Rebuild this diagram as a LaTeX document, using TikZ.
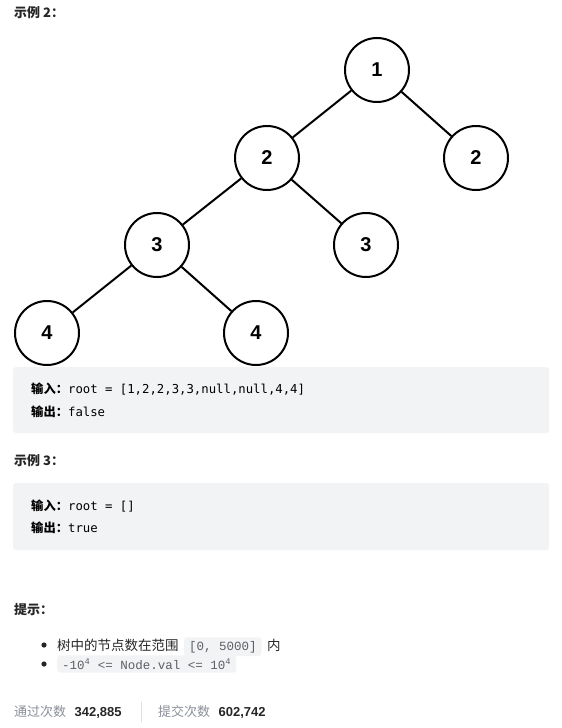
\documentclass[tikz,border=0pt]{standalone}
\usepackage{fontspec}
\setmainfont{Liberation Sans}
\setmonofont{DejaVu Sans Mono}
\newfontfamily\cjkfont{Noto Sans CJK SC}
\newfontfamily\chipfont{Liberation Mono}
\usetikzlibrary{positioning}
\definecolor{codebg}{HTML}{F2F3F5}
\definecolor{hintgray}{HTML}{8A8F99}
\definecolor{textdark}{HTML}{262626}
\definecolor{chipgray}{HTML}{5C5F66}
\tikzset{
  treenode/.style={draw, circle, line width=2pt, minimum size=64pt, inner sep=0pt, fill=white, font=\fontsize{20}{20}\selectfont\bfseries},
  edge/.style={line width=2pt},
  heading/.style={anchor=base west, inner sep=0pt, text=textdark, font=\fontsize{13}{13}\selectfont\cjkfont\bfseries},
  ioline/.style={anchor=base west, inner sep=0pt, text=black, font=\fontsize{12.3}{12.3}\selectfont},
  hint/.style={anchor=base west, inner sep=0pt, text=textdark, font=\fontsize{13.5}{13.5}\selectfont\cjkfont},
  codechip/.style={anchor=base west, fill=codebg, rounded corners=3pt, inner xsep=5pt, inner ysep=3.5pt, text=chipgray, font=\fontsize{12.5}{12.5}\selectfont\chipfont},
  stat/.style={anchor=base west, inner sep=0pt, text=hintgray, font=\fontsize{13}{13}\selectfont\cjkfont},
  statnum/.style={anchor=base west, inner sep=0pt, text=textdark, font=\fontsize{13}{13}\selectfont\bfseries}
}

\begin{document}
\begin{tikzpicture}[x=1pt, y=-1pt]
  \useasboundingbox[fill=white] (0,0) rectangle (562,728);

  \node[heading] (ex2) at (14,17) {示例 2：};

  % the tree
  \node[treenode] (n1) at (377,70) {1};
  \node[treenode] (n2l) at (267,158) {2};
  \node[treenode] (n2r) at (476,158) {2};
  \node[treenode] (n3l) at (157,245) {3};
  \node[treenode] (n3r) at (366,245) {3};
  \node[treenode] (n4l) at (47,333) {4};
  \node[treenode] (n4r) at (256,333) {4};
  \draw[edge] (n1) -- (n2l);
  \draw[edge] (n1) -- (n2r);
  \draw[edge] (n2l) -- (n3l);
  \draw[edge] (n2l) -- (n3r);
  \draw[edge] (n3l) -- (n4l);
  \draw[edge] (n3l) -- (n4r);

  \fill[codebg, rounded corners=3pt] (13,367) rectangle (549,433);
  \node[ioline] (in2) at (31,393) {{\cjkfont\bfseries 输入：}\ttfamily root = [1,2,2,3,3,null,null,4,4]};
  \node[ioline] (out2) at (31,416) {{\cjkfont\bfseries 输出：}\ttfamily false};

  \node[heading] (ex3) at (14,465) {示例 3：};
  \fill[codebg, rounded corners=3pt] (13,483) rectangle (549,550);
  \node[ioline] (in3) at (31,510) {{\cjkfont\bfseries 输入：}\ttfamily root = []};
  \node[ioline] (out3) at (31,532) {{\cjkfont\bfseries 输出：}\ttfamily true};

  \node[heading] (tips) at (14,614) {提示：};
  \fill[textdark] (44,645) circle[radius=2.6];
  \fill[textdark] (44,664) circle[radius=2.6];
  \node[hint] (hint1) at (57,650) {树中的节点数在范围};
  \node[codechip] (range) at ([xshift=5pt]hint1.base east) {[0, 5000]};
  \node[hint] (inside) at ([xshift=5pt]range.base east) {内};
  \node[codechip] (bound) at (57,669) {-10\textsuperscript{4} <= Node.val <= 10\textsuperscript{4}};

  % stats
  \node[stat] (pass) at (14,716) {通过次数};
  \node[statnum] (passnum) at ([xshift=8pt]pass.base east) {342,885};
  \draw[gray!25] (141,702) -- (141,722);
  \node[stat] (submit) at (158,716) {提交次数};
  \node[statnum] (submitnum) at ([xshift=8pt]submit.base east) {602,742};
\end{tikzpicture}
\end{document}
